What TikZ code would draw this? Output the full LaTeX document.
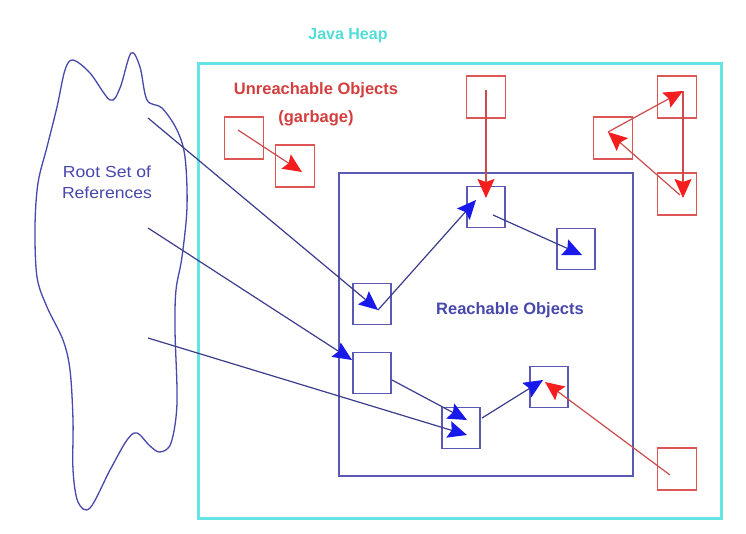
\documentclass[tikz,border=0pt]{standalone}
\usepackage{fontspec}
\setmainfont{Liberation Sans}
\newfontfamily\widesans[FakeStretch=1.1]{Liberation Sans}
\usetikzlibrary{arrows.meta}
\definecolor{heapcyan}{RGB}{100,228,228}
\definecolor{heaptext}{RGB}{80,222,215}
\definecolor{boxblue}{RGB}{90,90,180}
\definecolor{lineblue}{RGB}{60,60,140}
\definecolor{tipblue}{RGB}{25,25,235}
\definecolor{boxred}{RGB}{222,85,85}
\definecolor{linered}{RGB}{205,75,75}
\definecolor{tipred}{RGB}{245,30,30}
\definecolor{textblue}{RGB}{72,72,172}
\definecolor{textred}{RGB}{212,62,62}
\begin{document}
\begin{tikzpicture}[x=1pt,y=-1pt,
  objbox/.style={draw=boxblue,line width=1.4pt,minimum width=38pt,minimum height=41pt,inner sep=0pt},
  garbox/.style={draw=boxred,line width=1.2pt,minimum width=39pt,minimum height=42pt,inner sep=0pt},
  refarrow/.style={draw=lineblue,line width=1.2pt,-{Stealth[length=19pt,width=17pt,inset=3pt,color=tipblue]}},
  garrow/.style={draw=linered,line width=1.2pt,-{Stealth[length=19pt,width=17pt,inset=3pt,color=tipred]}},
  areabox/.style={draw=boxblue,line width=1.4pt,inner sep=0pt}
]
\useasboundingbox (0,0) rectangle (746,533);
\fill[white] (0,0) rectangle (746,533);

% Root set blob
\draw[textblue,line width=1.3pt,line join=round] plot[smooth cycle,tension=0.55] coordinates {
 (73,60) (90,73) (110,100) (120,88) (131,53) (140,67) (147,100) (162,108) (177,130)
 (185,157) (187,207) (182,257) (176,290) (175,330) (177,403) (171,443) (160,452)
 (150,446) (137,433) (127,440) (110,470) (90,508) (78,502) (73,470) (73,420)
 (70,370) (63,340) (47,307) (37,277) (35,227) (38,183) (47,147) (57,107) (65,70)};
\node[text=textblue,align=center,font=\widesans\fontsize{16}{21}\selectfont] (rootlbl) at (107,182) {Root Set of\\References};

% Heap and reachable area
\node[draw=heapcyan,line width=3pt,minimum width=523pt,minimum height=455pt,inner sep=0pt] (heap) at (459.5,290.5) {};
\node[text=heaptext,font=\bfseries\fontsize{16}{18}\selectfont] (heaplbl) at (348,36) {Java Heap};
\node[areabox,minimum width=294pt,minimum height=303pt] (reach) at (486,324.5) {};
\node[text=textblue,font=\bfseries\fontsize{16.5}{18}\selectfont] (reachlbl) at (510,310) {Reachable Objects};
\node[text=textred,align=center,font=\bfseries\fontsize{16.5}{28}\selectfont] (garblbl) at (316,104) {Unreachable Objects\\(garbage)};

% Reachable objects
\node[objbox] (A) at (486,207) {};
\node[objbox] (B) at (576,249) {};
\node[objbox] (C) at (372,304) {};
\node[objbox] (D) at (372,373) {};
\node[objbox] (E) at (461,428) {};
\node[objbox] (F) at (549,387) {};

% Unreachable objects
\node[garbox] (G1) at (244,138) {};
\node[garbox] (G2) at (295,166) {};
\node[garbox] (G3) at (486,97) {};
\node[garbox] (T1) at (677,97) {};
\node[garbox] (T2) at (613,138) {};
\node[garbox] (T3) at (677,194) {};
\node[garbox] (G4) at (677,469) {};

% connector points
\coordinate (r1) at (148,118);
\coordinate (r2) at (148,228);
\coordinate (r3) at (148,338);
\coordinate (cIn) at (378,310);
\coordinate (dIn) at (352,360);
\coordinate (aIn) at (476,200);
\coordinate (aOut) at (493,215);
\coordinate (aTop) at (486,198);
\coordinate (bIn) at (582,255);
\coordinate (dOut) at (392,380);
\coordinate (eIn1) at (467,420);
\coordinate (eIn2) at (467,435);
\coordinate (eOut) at (482,418);
\coordinate (fIn1) at (543,380);
\coordinate (fIn2) at (545,382);
\coordinate (g4Out) at (670,475);
\coordinate (g3Out) at (486,90);
\coordinate (g1Out) at (238,130);
\coordinate (g2In) at (302,172);
\coordinate (t1P) at (683,91);
\coordinate (t3P) at (683,198);
\coordinate (t3Out) at (680,195);
\coordinate (t2P) at (608,132);

% arrows
\draw[refarrow] (r1) -- (cIn);
\draw[refarrow] (r2) -- (dIn);
\draw[refarrow] (r3) -- (eIn2);
\draw[refarrow] (cIn) -- (aIn);
\draw[refarrow] (aOut) -- (bIn);
\draw[refarrow] (dOut) -- (eIn1);
\draw[refarrow] (eOut) -- (fIn1);
\draw[garrow] (g4Out) -- (fIn2);
\draw[garrow] (g3Out) -- (aTop);
\draw[garrow] (g1Out) -- (g2In);
\draw[garrow] (t1P) -- (t3P);
\draw[garrow] (t3Out) -- (t2P);
\draw[garrow] (t2P) -- (t1P);
\end{tikzpicture}
\end{document}
